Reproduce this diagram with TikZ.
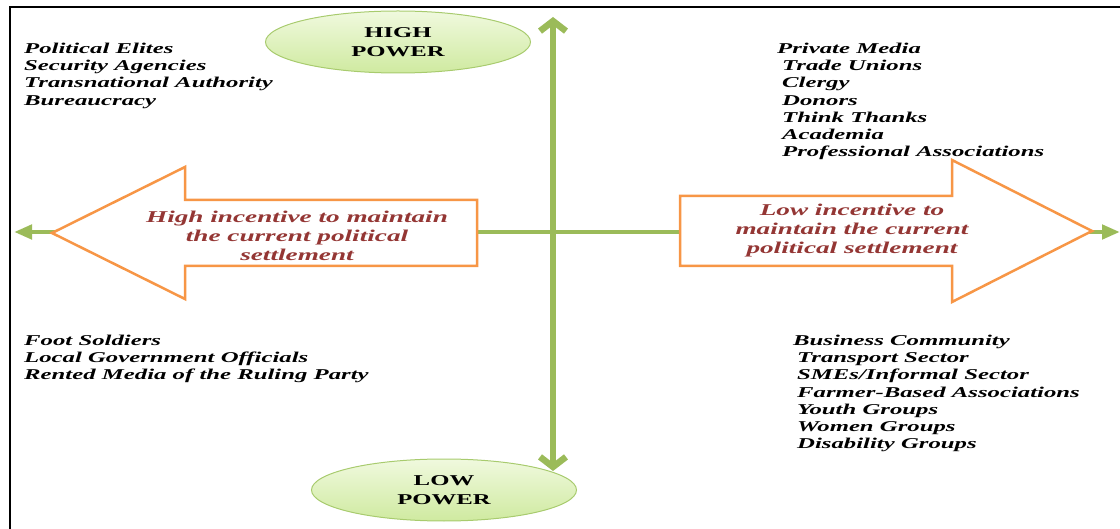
\documentclass[tikz,border=0pt]{standalone}
\usepackage{fontspec}
\setmainfont{Liberation Serif}
\newfontfamily\widefam[FakeStretch=1.65]{Liberation Serif}
\usetikzlibrary{arrows.meta,shapes.geometric}
\definecolor{axisgreen}{HTML}{9BBB59}
\definecolor{blockorange}{HTML}{F79646}
\definecolor{incred}{HTML}{943634}
\definecolor{ellfillA}{HTML}{F0F9DE}
\definecolor{ellfillB}{HTML}{CFEAA0}
\definecolor{ellborder}{HTML}{A8CB6E}
\begin{document}
\begin{tikzpicture}[x=1pt,y=-1pt,
  listtext/.style={font=\widefam\bfseries\itshape\fontsize{15}{17.3}\selectfont, align=left, anchor=north west, inner sep=0pt},
  powerell/.style={ellipse, draw=ellborder, line width=1pt, top color=ellfillA, bottom color=ellfillB,
    minimum width=265pt, minimum height=62pt, inner sep=0pt,
    font=\widefam\bfseries\fontsize{15}{19}\selectfont, align=center},
  incentive/.style={text=incred, font=\widefam\bfseries\itshape\fontsize{16.5}{19}\selectfont, align=center, inner sep=0pt},
  blockarrow/.style={draw=blockorange, line width=2.5pt, fill=white, line join=miter},
  haxis/.style={draw=axisgreen, line width=4.5pt, {Triangle[length=18pt,width=14pt]}-{Triangle[length=18pt,width=14pt]}},
  vaxis/.style={draw=axisgreen, line width=6.5pt, {Straight Barb[length=10pt,width=26pt]}-{Straight Barb[length=10pt,width=26pt]}},
  frameline/.style={draw=black, line width=1.5pt}
]
\useasboundingbox (0,0) rectangle (1120,529);
% frame
\draw[frameline] (10,529) -- (10,7) -- (1120,7);

% horizontal axis
\coordinate (hl) at (14,232);
\coordinate (hr) at (1120,232);
\draw[haxis] (hl) -- (hr);

% block arrows
\draw[blockarrow] (52,233) -- (185,167) -- (185,200) -- (477,200) -- (477,266) -- (185,266) -- (185,299) -- cycle;
\draw[blockarrow] (1092,231) -- (952,160) -- (952,196) -- (680,196) -- (680,266) -- (952,266) -- (952,302) -- cycle;

\node[incentive] (hiinc) at (297,236) {High incentive to maintain\\the current political\\settlement};
\node[incentive] (loinc) at (852,231) {Low incentive to\\maintain the current\\political settlement};

% power ellipses
\node[powerell] (highpow) at (398,42) {HIGH\\POWER};
\node[powerell] (lowpow) at (444,490) {LOW\\POWER};

% vertical axis
\coordinate (vt) at (553,17);
\coordinate (vb) at (553,471);
\draw[vaxis] (vt) -- (vb);

% stakeholder lists
\node[listtext] (tl) at (24,42.5) {Political Elites\\Security Agencies\\Transnational Authority\\Bureaucracy};
\node[listtext] (tr) at (777,42.5) {Private Media\\\hspace*{5pt}Trade Unions\\\hspace*{5pt}Clergy\\\hspace*{5pt}Donors\\\hspace*{5pt}Think Thanks\\\hspace*{5pt}Academia\\\hspace*{5pt}Professional Associations};
\node[listtext] (bl) at (24,334.5) {Foot Soldiers\\Local Government Officials\\Rented Media of the Ruling Party};
\node[listtext] (br) at (793,334.5) {Business Community\\\hspace*{4pt}Transport Sector\\\hspace*{4pt}SMEs/Informal Sector\\\hspace*{4pt}Farmer-Based Associations\\\hspace*{4pt}Youth Groups\\\hspace*{4pt}Women Groups\\\hspace*{4pt}Disability Groups};
\end{tikzpicture}
\end{document}
